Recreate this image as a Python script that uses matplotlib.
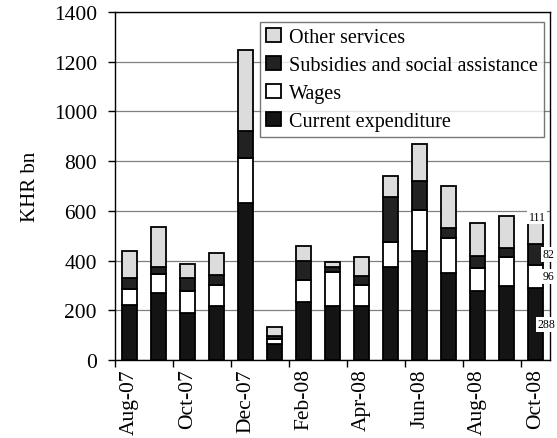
import numpy as np
import matplotlib.pyplot as plt
from matplotlib.ticker import FixedLocator, NullFormatter

plt.rcParams['font.family'] = ['Liberation Serif', 'DejaVu Serif']

months = ['Aug-07', 'Sep-07', 'Oct-07', 'Nov-07', 'Dec-07', 'Jan-08', 'Feb-08',
          'Mar-08', 'Apr-08', 'May-08', 'Jun-08', 'Jul-08', 'Aug-08', 'Sep-08', 'Oct-08']

# KHR bn (last month from its data labels)
current = [221, 268, 191, 216, 630, 66, 235, 218, 216, 373, 440, 349, 276, 296, 288]
wages = [65, 78, 88, 86, 182, 18, 87, 137, 87, 103, 165, 140, 93, 120, 96]
subsidies = [43, 27, 50, 40, 110, 11, 77, 20, 33, 181, 114, 41, 48, 33, 82]
other = [108, 163, 56, 88, 326, 36, 61, 18, 80, 84, 150, 171, 133, 131, 111]

series = [('Current expenditure', current, '#141414'),
          ('Wages', wages, '#ffffff'),
          ('Subsidies and social assistance', subsidies, '#222222'),
          ('Other services', other, '#dcdcdc')]

fig = plt.figure(figsize=(5.57, 4.39), dpi=100)
ax = fig.add_axes([0.2065, 0.1777, 0.781, 0.7927])

x = np.arange(len(months))
bottom = np.zeros(len(months))
handles = []
for name, vals, col in series:
    b = ax.bar(x, vals, width=0.52, bottom=bottom, color=col, edgecolor='black',
               linewidth=1.3, label=name, zorder=3)
    handles.append(b)
    bottom = bottom + np.array(vals)

# data labels for the last month
last = len(months) - 1
cum = np.cumsum([s[1][last] for s in series])
starts = cum - np.array([s[1][last] for s in series])
box = dict(facecolor='white', edgecolor='none', pad=1)
ax.text(x[last] + 0.05, cum[-1], str(other[last]), ha='center', va='center',
        fontsize=8.5, bbox=box, zorder=5)
offsets = [0.08, 0.25, 0.25]
for (name, vals, col), s0, s1, dx in zip(series[:3], starts[:3], cum[:3], offsets):
    ax.text(x[last] + dx, (s0 + s1) / 2, str(vals[last]), ha='left', va='center',
            fontsize=8.5, bbox=box, zorder=5, clip_on=False)

ax.set_ylim(0, 1400)
ax.set_xlim(-0.5, len(months) - 0.5)
ax.set_yticks(np.arange(0, 1401, 200))
ax.yaxis.grid(True, color='#808080', linewidth=0.9, zorder=0)
ax.set_axisbelow(True)

ax.xaxis.set_major_locator(FixedLocator(np.arange(-0.5, len(months), 2)))
ax.xaxis.set_major_formatter(NullFormatter())
ax.xaxis.set_minor_locator(FixedLocator(x[::2]))
ax.set_xticklabels(months[::2], minor=True, rotation=90, fontsize=15.5)
ax.tick_params(axis='x', which='major', direction='out', length=5, width=1)
ax.tick_params(axis='x', which='minor', length=0, pad=6)
ax.tick_params(axis='y', direction='out', length=5, width=1, labelsize=15.5, pad=8)

for sp in ax.spines.values():
    sp.set_linewidth(1.0)

ax.set_ylabel('KHR bn', fontsize=15, labelpad=10)

leg = ax.legend(handles[::-1], [s[0] for s in series][::-1], loc='upper right',
                bbox_to_anchor=(0.985, 0.972), fontsize=14.5, frameon=True, fancybox=False,
                edgecolor='#555555', handlelength=0.7, handleheight=0.7,
                handletextpad=0.4, borderpad=0.3, labelspacing=0.45, borderaxespad=0)
leg.get_frame().set_linewidth(1.0)

fig.savefig('out.png', dpi=100)
